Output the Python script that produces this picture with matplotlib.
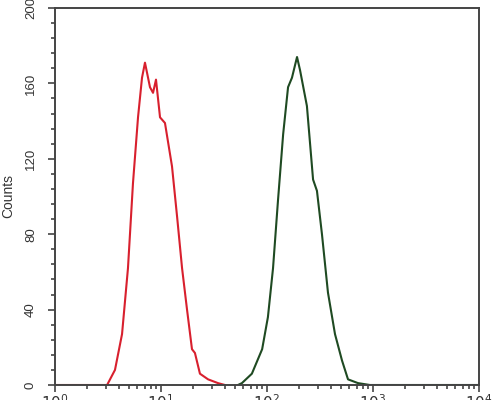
import matplotlib
matplotlib.use("Agg")
import matplotlib.pyplot as plt
from matplotlib.ticker import MultipleLocator, FixedLocator, FixedFormatter, LogLocator, NullFormatter

# Data
red_x = [1.0, 3.1, 3.68, 4.29, 4.88, 5.44, 6.07, 6.62, 7.06, 7.87, 8.41, 8.97,
         9.79, 10.9, 12.7, 14.2, 15.8, 17.6, 19.6, 20.9, 23.3, 27.8, 34.5, 40.1]
red_y = [0, 0, 8, 27, 62, 107, 142, 163, 171, 158, 155, 162,
         142, 139, 116, 89, 62, 40, 19, 17, 6, 3, 1, 0]

green_x = [53.2, 58, 72, 90, 102, 114, 127, 142, 158, 172, 192, 205, 238, 272,
           296, 330, 376, 438, 510, 581, 722, 935, 10000]
green_y = [0, 1, 6, 19, 36, 62, 98, 133, 158, 163, 174, 167, 148, 109,
           103, 80, 49, 27, 13, 3, 1, 0, 0]

x_ticks = [1, 10, 100, 1000, 10000]
x_tick_labels = [r"$10^{0}$", r"$10^{1}$", r"$10^{2}$", r"$10^{3}$", r"$10^{4}$"]
y_ticks = [0, 40, 80, 120, 160, 200]

plt.rcParams['font.family'] = ['Liberation Sans', 'DejaVu Sans']

fig = plt.figure(figsize=(4.95, 4.0), dpi=100)
ax = fig.add_axes([55/495, 15/400, 424/495, 377/400])

ax.plot(red_x, red_y, color="#d8202e", lw=1.5)
ax.plot(green_x, green_y, color="#1f4a22", lw=1.5)

ax.set_xscale("log")
ax.set_xlim(1, 10000)
ax.set_ylim(0, 200)

ax.xaxis.set_major_locator(FixedLocator(x_ticks))
ax.xaxis.set_major_formatter(FixedFormatter(x_tick_labels))
ax.xaxis.set_minor_locator(LogLocator(base=10, subs=range(2, 10)))
ax.xaxis.set_minor_formatter(NullFormatter())

ax.yaxis.set_major_locator(FixedLocator(y_ticks))
ax.yaxis.set_minor_locator(MultipleLocator(8))

for s in ax.spines.values():
    s.set_color("#444444")
    s.set_linewidth(1.4)

ax.tick_params(axis="both", which="major", direction="out", length=5, width=1.2, color="#444444")
ax.tick_params(axis="both", which="minor", direction="out", length=3, width=1.2, color="#444444")
ax.tick_params(axis="x", which="major", labelsize=11, pad=1, colors="#444444", labelcolor="#333333")
ax.tick_params(axis="y", which="major", labelsize=9.5, pad=8, labelcolor="#333333")
for lab in ax.get_yticklabels():
    lab.set_rotation(90)
    lab.set_va("center")

ax.set_ylabel("Counts", fontsize=10, color="#333333", labelpad=7)

fig.savefig("out.png", dpi=100)
